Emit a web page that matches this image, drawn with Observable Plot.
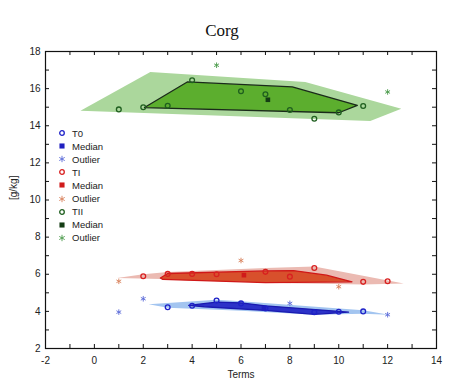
<!DOCTYPE html>
<html><head><meta charset="utf-8">
<script src="https://cdn.jsdelivr.net/npm/d3@7"></script>
<script src="https://cdn.jsdelivr.net/npm/@observablehq/plot@0.6"></script>
<style>
body{margin:0;background:#fff;}
#wrap{position:relative;width:450px;height:391px;}
#title{position:absolute;left:0;width:444px;top:21px;line-height:17px;text-align:center;font:17px "Liberation Serif",serif;color:#111;}
#legend{position:absolute;left:58px;top:126.5px;font:9.5px "Liberation Sans",Arial,sans-serif;color:#222;}
.row{height:13.1px;display:flex;align-items:center;}
.row svg{margin-right:6px;}
</style></head><body><div id="wrap"><div id="title">Corg</div><div id="legend"></div></div>
<script>
const terms = [1,2,3,4,5,6,7,8,9,10,11,12];
const t0Values = [3.96,4.68,4.22,4.30,4.58,4.43,4.16,4.43,3.95,3.98,4.00,3.82];
const t1Values = [5.62,5.89,6.02,6.02,6.00,6.74,6.13,5.87,6.34,5.33,5.59,5.62];
const t2Values = [14.88,15.00,15.08,16.45,17.26,15.86,15.70,14.85,14.38,14.72,15.06,15.82];
const t0Outliers = [1,2,8,12];
const t1Outliers = [1,6,10];
const t2Outliers = [5,12];
const medians = [
  {group:"T0", x:6.94, y:4.16},
  {group:"TI", x:6.12, y:5.95},
  {group:"TII", x:7.1, y:15.4}
];
// bag (inner) and fence (outer) polygons
const t0Bag = [[3.86,4.32],[5,4.5],[6,4.46],[7,4.3],[10.4,3.96],[9,3.84],[7,4.05],[4.5,4.25]];
const t0Fence = [[2.22,4.38],[5,4.62],[6,4.54],[11,4.06],[12.05,3.82],[11,3.87],[9,3.82],[6,4.04],[3,4.2]];
const t1Bag = [[2.7,5.8],[3,6.04],[7,6.18],[8.15,6.2],[9.5,5.95],[10.54,5.59],[7,5.55],[2.8,5.72]];
const t1Fence = [[0.93,5.8],[2,6.0],[3,6.12],[7,6.33],[9,6.42],[12.66,5.5],[11,5.45],[8,5.52],[2.7,5.74]];
const t2Bag = [[2.05,14.98],[3.8,16.36],[8.1,16.09],[10.76,15.1],[10.0,14.7]];
const t2Fence = [[-0.57,14.81],[2.29,16.9],[8.63,16.36],[12.56,14.92],[11.29,14.25]];

const xLabels = [-2,0,2,4,6,8,10,12,14];
const yLabels = [2,4,6,8,10,12,14,16,18];
const xMinor = d3.range(-2,15,1);
const yMinor = d3.range(2,19,1);

const col = {
  T0:{pt:"#1e22c8", bag:"#2c32c8", bagStroke:"#1a1ab0", fence:"#a3c5f0", out:"#5a6ad8", med:"#2020c0"},
  TI:{pt:"#d82020", bag:"#d8502c", bagStroke:"#d01818", fence:"#ebbab2", out:"#d8805a", med:"#d01a1a"},
  TII:{pt:"#1f5f1f", bag:"#5cae2e", bagStroke:"#1a2a1a", fence:"#abd79c", out:"#4a9a4a", med:"#143c14"}
};

function pts(group, vals, outs){
  return terms.map((t,i)=>({group, x:t, y:vals[i], outlier: outs.includes(t)}));
}
const points = [...pts("T0",t0Values,t0Outliers), ...pts("TI",t1Values,t1Outliers), ...pts("TII",t2Values,t2Outliers)];
const poly = (arr)=>arr.map(([x,y])=>({x,y}));

const W = 450, H = 391, mT = 51, mB = 43, mL = 45, mR = 14;
const fw = W-mL-mR, fh = H-mT-mB;

const marks = [];
for (const [g,bag,fence] of [["TII",t2Bag,t2Fence],["TI",t1Bag,t1Fence],["T0",t0Bag,t0Fence]]) {
  marks.push(Plot.line(poly(fence), {x:"x", y:"y", curve:"linear-closed", fill:col[g].fence, stroke:"none"}));
  marks.push(Plot.line(poly(bag), {x:"x", y:"y", curve:"linear-closed", fill:col[g].bag, stroke:col[g].bagStroke, strokeWidth:1.3}));
}
for (const g of ["T0","TI","TII"]) {
  const gp = points.filter(d=>d.group===g);
  marks.push(Plot.dot(gp.filter(d=>!d.outlier), {x:"x", y:"y", r:2.4, stroke:col[g].pt, fill:"none", strokeWidth:1.3}));
  marks.push(Plot.dot(gp.filter(d=>d.outlier), {x:"x", y:"y", r:2.6, symbol:"asterisk", stroke:col[g].out, strokeWidth:0.9}));
  marks.push(Plot.dot(medians.filter(d=>d.group===g), {x:"x", y:"y", r:2.6, symbol:"square", fill:col[g].med, stroke:"none"}));
}
marks.push(
  Plot.frame({stroke:"#111", strokeWidth:1.2}),
  Plot.ruleX(xMinor, {x:d=>d, insetTop:fh-4, stroke:"#111"}),
  Plot.ruleX(xMinor, {x:d=>d, insetBottom:fh-4, stroke:"#111"}),
  Plot.ruleY(yMinor, {y:d=>d, insetRight:fw-4, stroke:"#111"}),
  Plot.ruleY(yMinor, {y:d=>d, insetLeft:fw-4, stroke:"#111"}),
  Plot.axisX({ticks:xLabels, tickSize:0, tickPadding:8, fontSize:10, label:null, tickFormat:d=>String(d)}),
  Plot.axisY({ticks:yLabels, tickSize:0, tickPadding:5, fontSize:10, label:null, tickFormat:d=>String(d)}),
  Plot.text(["Terms"], {frameAnchor:"bottom", dy:29, fontSize:10, fill:"#222"}),
  Plot.text(["[g/kg]"], {frameAnchor:"left", dx:-32, rotate:-90, fontSize:10, fill:"#222"})
);

const chart = Plot.plot({
  width:W, height:H, marginTop:mT, marginBottom:mB, marginLeft:mL, marginRight:mR,
  x:{domain:[-2,14]}, y:{domain:[2,18]},
  style:{fontFamily:"'Liberation Sans', Arial, sans-serif", color:"#222", background:"white"},
  marks
});
document.getElementById("wrap").prepend(chart);

// legend
const legendItems = [
  {label:"T0", g:"T0", kind:"circle"},
  {label:"Median", g:"T0", kind:"square"},
  {label:"Outlier", g:"T0", kind:"asterisk"},
  {label:"TI", g:"TI", kind:"circle"},
  {label:"Median", g:"TI", kind:"square"},
  {label:"Outlier", g:"TI", kind:"asterisk"},
  {label:"TII", g:"TII", kind:"circle"},
  {label:"Median", g:"TII", kind:"square"},
  {label:"Outlier", g:"TII", kind:"asterisk"}
];
const leg = d3.select("#legend");
for (const it of legendItems) {
  const row = leg.append("div").attr("class","row");
  const s = row.append("svg").attr("width",8).attr("height",8);
  const c = col[it.g];
  if (it.kind==="circle") s.append("circle").attr("cx",4).attr("cy",4).attr("r",2.3).attr("fill","none").attr("stroke",c.pt).attr("stroke-width",1.3);
  else if (it.kind==="square") s.append("path").attr("transform","translate(4,4)").attr("d",d3.symbol(d3.symbolSquare,26)()).attr("fill",c.med);
  else s.append("path").attr("transform","translate(4,4)").attr("d",d3.symbol(d3.symbolAsterisk,28)()).attr("fill","none").attr("stroke",c.out).attr("stroke-width",0.9);
  row.append("span").text(it.label);
}
</script>
</body></html>
